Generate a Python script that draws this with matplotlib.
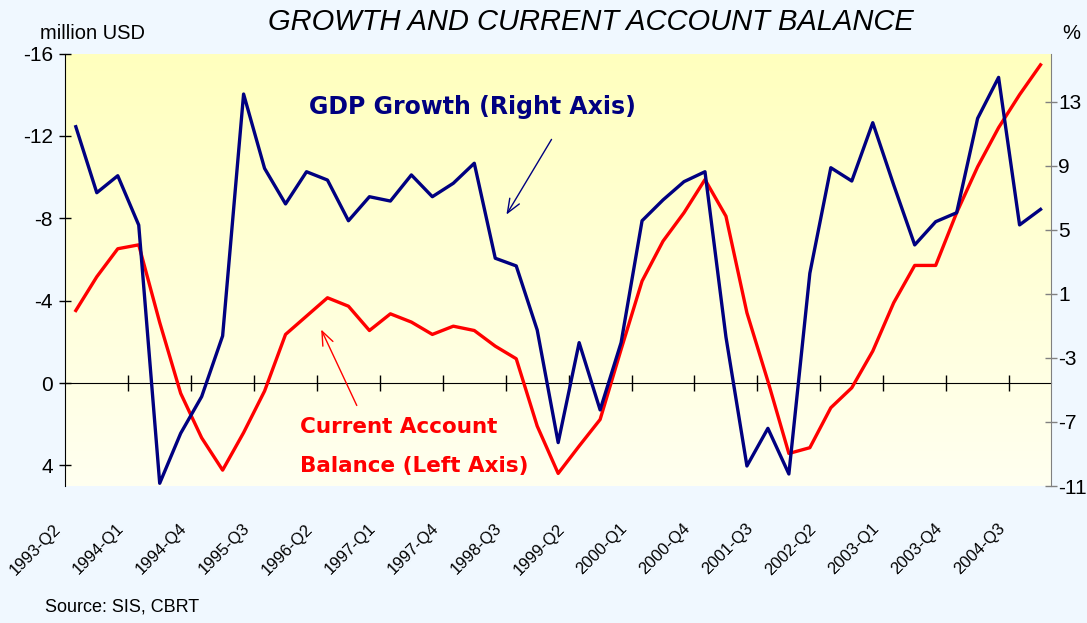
import matplotlib.pyplot as plt
import numpy as np
from matplotlib.transforms import ScaledTranslation

# quarterly data, 1993-Q2 .. 2004-Q4
tick_labels = ['1993-Q2', '1994-Q1', '1994-Q4', '1995-Q3', '1996-Q2', '1997-Q1',
               '1997-Q4', '1998-Q3', '1999-Q2', '2000-Q1', '2000-Q4', '2001-Q3',
               '2002-Q2', '2003-Q1', '2003-Q4', '2004-Q3']

# million USD, left axis (inverted)
current_account = [-3.52, -5.16, -6.52, -6.71, -2.94, 0.5, 2.66, 4.23, 2.41, 0.39,
                   -2.36, -3.25, -4.14, -3.73, -2.55, -3.36, -2.96, -2.36, -2.76, -2.55,
                   -1.79, -1.18, 2.09, 4.39, 3.06, 1.77, -1.63, -4.95, -6.89, -8.27,
                   -9.88, -8.1, -3.41, -0.09, 3.42, 3.14, 1.2, 0.23, -1.55, -3.9,
                   -5.71, -5.71, -8.27, -10.5, -12.4, -14.0, -15.45]

# %, right axis
gdp_growth = [11.43, 7.31, 8.37, 5.29, -10.83, -7.71, -5.42, -1.63, 13.47, 8.83,
              6.61, 8.62, 8.1, 5.56, 7.06, 6.79, 8.42, 7.06, 7.9, 9.15,
              3.22, 2.74, -1.26, -8.29, -2.05, -6.25, -2.05, 5.56, 6.86, 8.0,
              8.62, -1.7, -9.75, -7.4, -10.25, 2.28, 8.87, 8.04, 11.68, 7.79,
              4.05, 5.5, 6.06, 11.95, 14.51, 5.3, 6.27]

left_ticks = [-16, -12, -8, -4, 0, 4]
right_ticks = [-11, -7, -3, 1, 5, 9, 13]

plt.rcParams['font.family'] = ['Liberation Sans', 'DejaVu Sans']

fig = plt.figure(figsize=(10.87, 6.23), dpi=100, facecolor='#f0f8ff')
ax = fig.add_axes([0.0601, 0.2199, 0.9068, 0.6942])
n = len(current_account)
x = np.arange(n)

# yellow gradient plot area
grad = np.linspace(0, 1, 256).reshape(-1, 1)
top = np.array([255, 255, 190]) / 255
bot = np.array([255, 255, 240]) / 255
img = top * (1 - grad[..., None]) + bot * grad[..., None]
ax.imshow(img, extent=[0, 1, 0, 1], transform=ax.transAxes, aspect='auto', zorder=0)

ax.plot(x, current_account, color='#ff0000', lw=2.4, zorder=3)
ax.set_xlim(-0.5, n - 0.5)
ax.set_ylim(5, -16)
ax.set_yticks(left_ticks)
ax.set_yticklabels([str(v) for v in left_ticks], fontsize=15)
ax.tick_params(axis='y', direction='inout', length=8, width=1, pad=5, colors='black')

for s in ['top', 'right', 'bottom']:
    ax.spines[s].set_visible(False)
ax.spines['left'].set_color('black')

# category labels
ax.set_xticks(x[::3])
ax.set_xticklabels(tick_labels, rotation=45, ha='right', va='center',
                   rotation_mode='anchor', fontsize=12)
ax.tick_params(axis='x', length=0, pad=29)
off = ScaledTranslation(-0.17, 0, fig.dpi_scale_trans)
for lbl in ax.get_xticklabels():
    lbl.set_transform(lbl.get_transform() + off)

# zero line with category-group tick marks
zero = ax.secondary_xaxis(5 / 21)
zero.set_xticks(np.arange(2.5, n - 1, 3))
zero.tick_params(direction='inout', length=11.5, width=1, labelbottom=False, labeltop=False)
zero.spines['bottom'].set_color('black')

ax2 = ax.twinx()
ax2.plot(x, gdp_growth, color='#000080', lw=2.4, zorder=3)
ax2.set_ylim(-11, 16)
ax2.set_yticks(right_ticks)
ax2.set_yticklabels([str(v) for v in right_ticks], fontsize=15)
ax2.tick_params(axis='y', direction='inout', length=8.5, width=1, pad=1, color='#808080')
for s in ['top', 'left', 'bottom']:
    ax2.spines[s].set_visible(False)
ax2.spines['right'].set_color('#808080')

fig.text(0.544, 0.965, 'GROWTH AND CURRENT ACCOUNT BALANCE', ha='center', va='center',
         fontsize=21, style='italic')
fig.text(0.0368, 0.947, 'million USD', ha='left', va='center', fontsize=14.5)
fig.text(0.977, 0.947, '%', ha='left', va='center', fontsize=14.5)
fig.text(0.0414, 0.026, 'Source: SIS, CBRT', ha='left', va='center', fontsize=13)

fig.text(0.4347, 0.8283, 'GDP Growth (Right Axis)', ha='center', va='center',
         family='DejaVu Sans', weight='bold', fontsize=17, color='#000080')
fig.text(0.276, 0.3146, 'Current Account', ha='left', va='center',
         family='DejaVu Sans', weight='bold', fontsize=15.5, color='#ff0000')
fig.text(0.276, 0.252, 'Balance (Left Axis)', ha='left', va='center',
         family='DejaVu Sans', weight='bold', fontsize=15.5, color='#ff0000')

ax.annotate('', xy=(0.4646, 0.6517), xytext=(0.5087, 0.7801), xycoords='figure fraction',
            arrowprops=dict(arrowstyle='->,head_length=1.0,head_width=0.4',
                            color='#000080', lw=1))
ax.annotate('', xy=(0.2944, 0.4751), xytext=(0.3293, 0.3451), xycoords='figure fraction',
            arrowprops=dict(arrowstyle='->,head_length=1.0,head_width=0.4',
                            color='#ff0000', lw=1))

fig.savefig('out.png', dpi=100, facecolor=fig.get_facecolor())
